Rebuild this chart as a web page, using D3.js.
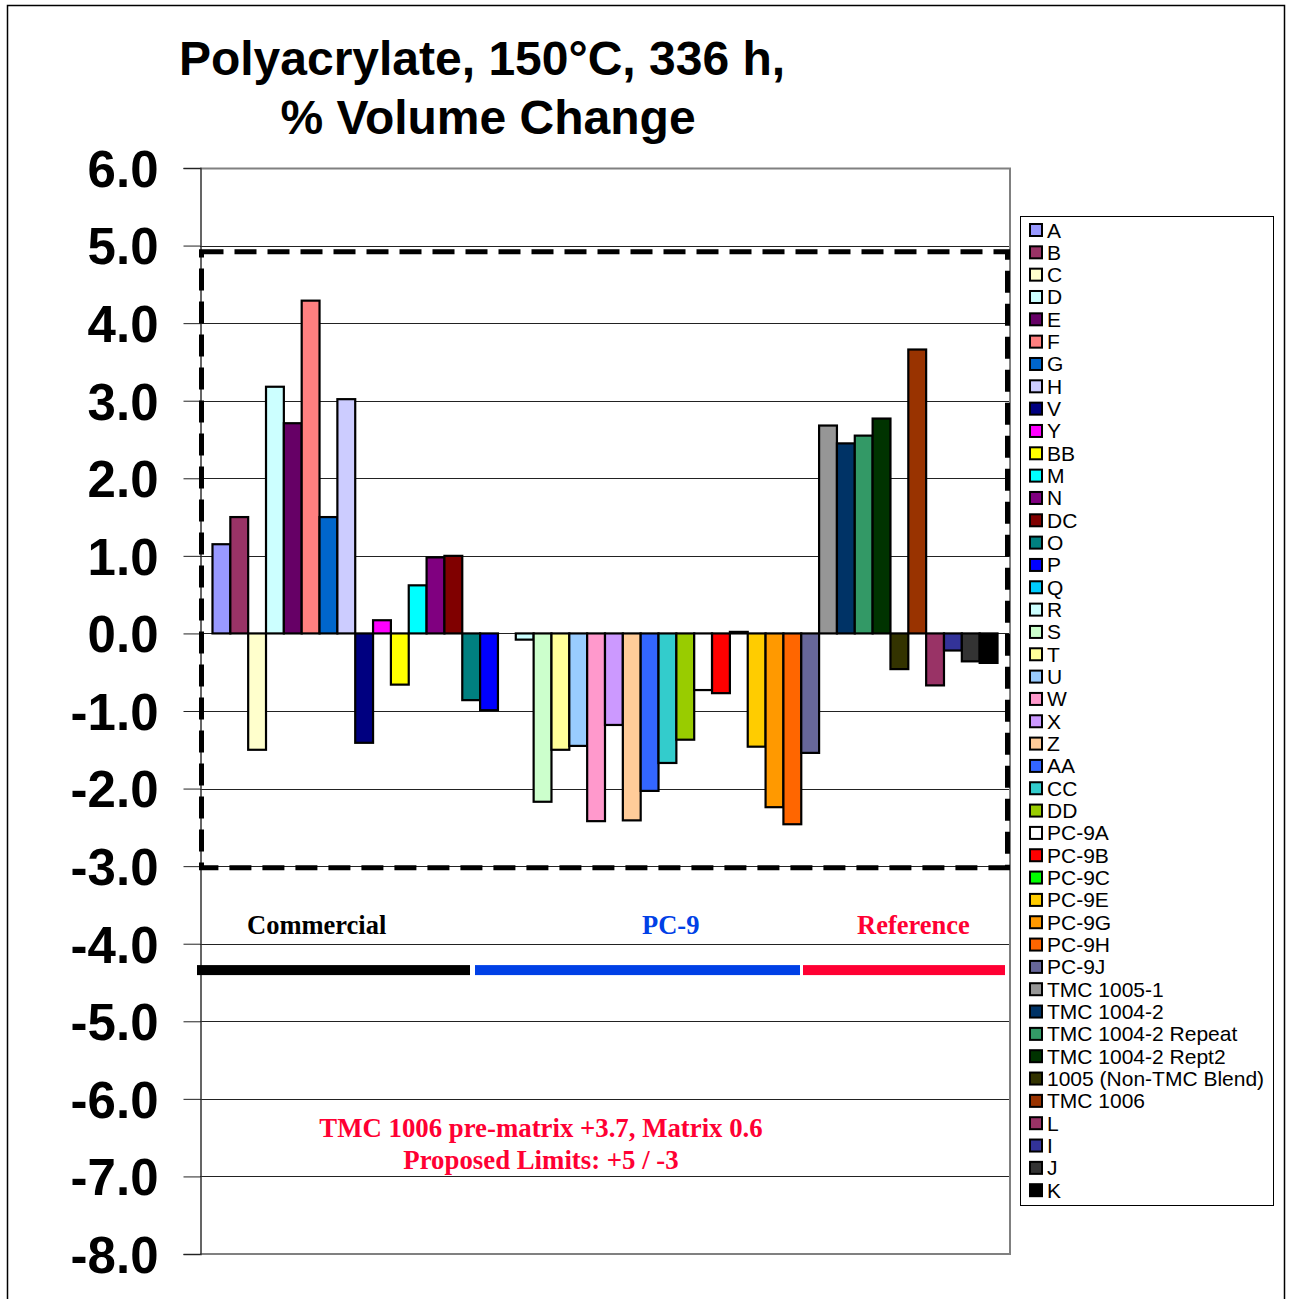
<!DOCTYPE html>
<html>
<head>
<meta charset="utf-8">
<script src="https://cdn.jsdelivr.net/npm/d3@7"></script>
<style>
  html, body { margin: 0; padding: 0; background: #fff; }
  svg { display: block; }
</style>
</head>
<body>
<script>
// Oil sample names, in chart order
const samples = ["A","B","C","D","E","F","G","H","V","Y","BB","M","N","DC","O","P","Q","R","S","T","U","W","X","Z","AA","CC","DD",
  "PC-9A","PC-9B","PC-9C","PC-9E","PC-9G","PC-9H","PC-9J",
  "TMC 1005-1","TMC 1004-2","TMC 1004-2 Repeat","TMC 1004-2 Rept2","1005 (Non-TMC Blend)","TMC 1006","L","I","J","K"];

// % volume change after 336 h at 150°C
const volumeChange = [1.15,1.50,-1.50,3.18,2.71,4.29,1.50,3.02,-1.41,0.17,-0.66,0.62,0.98,1.00,-0.86,-0.99,0.00,-0.08,-2.17,-1.50,-1.45,-2.42,-1.18,-2.41,-2.03,-1.67,-1.37,
  -0.73,-0.77,0.02,-1.46,-2.24,-2.46,-1.54,
  2.68,2.45,2.55,2.77,-0.46,3.66,-0.67,-0.22,-0.36,-0.38];

const fills = ["#9999FF","#993366","#FFFFCC","#CCFFFF","#660066","#FF8080","#0066CC","#CCCCFF","#000080","#FF00FF","#FFFF00","#00FFFF","#800080","#800000","#008080","#0000FF","#00CCFF","#CCFFFF","#CCFFCC","#FFFF99","#99CCFF","#FF99CC","#CC99FF","#FFCC99","#3366FF","#33CCCC","#99CC00",
  "#FFFFFF","#FF0000","#00FF00","#FFCC00","#FF9900","#FF6600","#666699",
  "#969696","#003366","#339966","#003300","#333300","#993300","#993366","#333399","#333333","#000000"];

const yTicks = [6,5,4,3,2,1,0,-1,-2,-3,-4,-5,-6,-7,-8];
const titleLines = ["Polyacrylate, 150°C, 336 h,", "% Volume Change"];
const limits = { upper: 4.92, lower: -3.02 };
const groups = [
  { name: "Commercial", color: "#000000", x0: 197, x1: 470, labelX: 247 },
  { name: "PC-9", color: "#0040E6", x0: 475, x1: 800, labelX: 642 },
  { name: "Reference", color: "#FF0033", x0: 803, x1: 1005, labelX: 857 }
];
const notes = ["TMC 1006 pre-matrix +3.7, Matrix 0.6", "Proposed Limits: +5 / -3"];

const W = 1290, H = 1299;
const plot = { left: 200, right: 1010, top: 168, bottom: 1254 };

const svg = d3.select("body").append("svg").attr("width", W).attr("height", H);

// outer chart frame
svg.append("rect").attr("x", 7.5).attr("y", 5.5).attr("width", 1277).attr("height", 1310)
  .attr("fill", "#fff").attr("stroke", "#000").attr("stroke-width", 1.5);

const x = d3.scaleBand().domain(samples).range([plot.left, plot.right]).paddingInner(0).paddingOuter(0.7);
const y = d3.scaleLinear().domain([-8, 6]).range([plot.bottom, plot.top]);

// title
svg.append("g").selectAll("text").data(titleLines).join("text")
  .attr("x", (d, i) => i === 0 ? 482 : 488)
  .attr("y", (d, i) => 75 + i * 59)
  .attr("text-anchor", "middle")
  .attr("font-family", "Liberation Sans, Arial, sans-serif")
  .attr("font-weight", "bold").attr("font-size", 48)
  .text(d => d);

// gridlines
svg.append("g").selectAll("line").data(yTicks).join("line")
  .attr("x1", plot.left).attr("x2", plot.right)
  .attr("y1", d => Math.round(y(d)) + 0.5).attr("y2", d => Math.round(y(d)) + 0.5)
  .attr("stroke", "#222").attr("stroke-width", 1);

// plot border (grey) on right and bottom
svg.append("path")
  .attr("d", `M${plot.left},${plot.top + 0.5}H${plot.right}V${plot.bottom}H${plot.left}`)
  .attr("fill", "none").attr("stroke", "#808080").attr("stroke-width", 2);

// y axis, plain hyphen for negatives
const fmt = d3.format(".1f");
const yAxis = d3.axisLeft(y).tickValues(yTicks)
  .tickFormat(d => fmt(d).replace("\u2212", "-"))
  .tickSize(17).tickPadding(25);
const ag = svg.append("g").attr("transform", `translate(${plot.left + 0.5},0)`).call(yAxis);
ag.select(".domain").attr("stroke", "#333").attr("stroke-width", 1.5);
ag.selectAll(".tick line").attr("stroke", "#222");
ag.selectAll(".tick text")
  .attr("font-family", "Liberation Sans, Arial, sans-serif")
  .attr("font-weight", "bold").attr("font-size", 51).attr("fill", "#000")
  .attr("dy", "0.36em");

// bars
const data = samples.map((s, i) => ({ name: s, v: volumeChange[i], fill: fills[i] }));
svg.append("g").selectAll("rect").data(data).join("rect")
  .attr("x", d => x(d.name))
  .attr("width", x.bandwidth())
  .attr("y", d => y(Math.max(0, d.v)))
  .attr("height", d => Math.abs(y(d.v) - y(0)))
  .attr("fill", d => d.fill)
  .attr("stroke", "#000").attr("stroke-width", 2.2);

// proposed limit box
svg.append("rect")
  .attr("x", plot.left + 1.5).attr("width", plot.right - plot.left - 4)
  .attr("y", y(limits.upper)).attr("height", y(limits.lower) - y(limits.upper))
  .attr("fill", "none").attr("stroke", "#000").attr("stroke-width", 5)
  .attr("stroke-dasharray", "22,11");

// group bands with labels
const gY = y(-4.34);
svg.append("g").selectAll("rect").data(groups).join("rect")
  .attr("x", d => d.x0).attr("width", d => d.x1 - d.x0)
  .attr("y", gY - 5).attr("height", 10)
  .attr("fill", d => d.color);
svg.append("g").selectAll("text").data(groups).join("text")
  .attr("x", d => d.labelX).attr("y", y(-3.87))
  .attr("font-family", "Liberation Serif, Times New Roman, serif")
  .attr("font-weight", "bold").attr("font-size", 26.5)
  .attr("fill", d => d.color)
  .text(d => d.name);

// notes
svg.append("g").selectAll("text").data(notes).join("text")
  .attr("x", 541).attr("y", (d, i) => 1137 + i * 32)
  .attr("text-anchor", "middle")
  .attr("font-family", "Liberation Serif, Times New Roman, serif")
  .attr("font-weight", "bold").attr("font-size", 26.8)
  .attr("fill", "#FF0033")
  .text(d => d);

// legend
const lg = svg.append("g");
lg.append("rect").attr("x", 1020.5).attr("y", 216.5).attr("width", 253).attr("height", 989)
  .attr("fill", "#fff").attr("stroke", "#000").attr("stroke-width", 1);
const rowH = 22.33;
const items = lg.selectAll("g.item").data(data).join("g").attr("class", "item")
  .attr("transform", (d, i) => `translate(0,${230 + i * rowH})`);
items.append("rect").attr("x", 1030).attr("y", -6).attr("width", 12).attr("height", 12)
  .attr("fill", d => d.fill).attr("stroke", "#000").attr("stroke-width", 2);
items.append("text").attr("x", 1047).attr("y", 7.5)
  .attr("font-family", "Liberation Sans, Arial, sans-serif").attr("font-size", 21)
  .text(d => d.name);
</script>
</body>
</html>
